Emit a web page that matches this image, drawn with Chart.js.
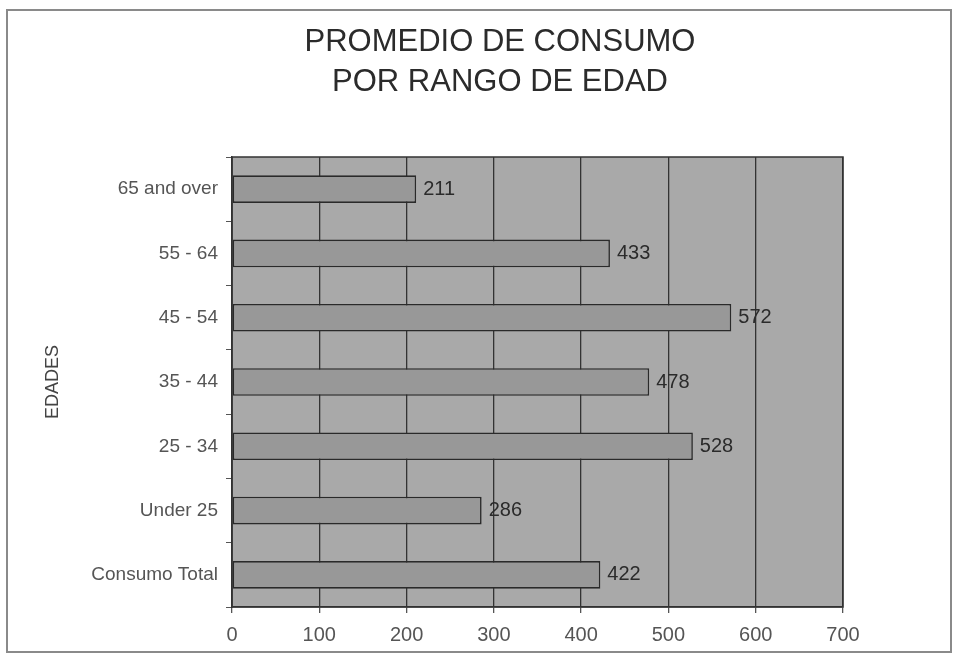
<!DOCTYPE html>
<html>
<head>
<meta charset="utf-8">
<script src="https://cdn.jsdelivr.net/npm/chart.js@4.4.1/dist/chart.umd.min.js"></script>
<style>
  html, body { margin: 0; padding: 0; background: #fff; }
  #wrap { width: 957px; height: 656px; position: relative; }
</style>
</head>
<body>
<div id="wrap"><canvas id="consumoChart"></canvas></div>
<script>
const categories = ["65 and over", "55 - 64", "45 - 54", "35 - 44", "25 - 34", "Under 25", "Consumo Total"];
const consumo = [211, 433, 572, 478, 528, 286, 422];
const xTicks = [0, 100, 200, 300, 400, 500, 600, 700];
const titleLines = ["PROMEDIO DE CONSUMO", "POR RANGO DE EDAD"];

const FONT = "'Liberation Sans', Arial, sans-serif";

// gray plot background + outer frame + title
const framePlugin = {
  id: "frame",
  beforeDraw(chart) {
    const { ctx, chartArea: a } = chart;
    ctx.save();
    ctx.fillStyle = "#fff";
    ctx.fillRect(0, 0, chart.width, chart.height);
    ctx.fillStyle = "#a9a9a9";
    ctx.fillRect(a.left, a.top, a.right - a.left, a.bottom - a.top);
    ctx.restore();
  },
  afterDraw(chart) {
    const { ctx, chartArea: a } = chart;
    ctx.save();
    ctx.strokeStyle = "#333";
    ctx.lineWidth = 1.5;
    ctx.strokeRect(a.left, a.top, a.right - a.left, a.bottom - a.top);
    ctx.strokeStyle = "#8a8a8a";
    ctx.lineWidth = 2;
    ctx.strokeRect(7, 10, 944, 642);
    ctx.fillStyle = "#2b2b2b";
    ctx.font = "31px " + FONT;
    ctx.textAlign = "center";
    ctx.textBaseline = "middle";
    titleLines.forEach((t, i) => ctx.fillText(t, 500, 42 + i * 40));
    ctx.restore();
  },
};

// value labels at bar ends
const valueLabels = {
  id: "valueLabels",
  afterDatasetsDraw(chart) {
    const { ctx } = chart;
    const meta = chart.getDatasetMeta(0);
    ctx.save();
    ctx.fillStyle = "#2b2b2b";
    ctx.font = "20px " + FONT;
    ctx.textAlign = "left";
    ctx.textBaseline = "middle";
    meta.data.forEach((bar, i) => {
      ctx.fillText(consumo[i], bar.x + 7, bar.y);
    });
    ctx.restore();
  },
};

new Chart(document.getElementById("consumoChart"), {
  type: "bar",
  data: {
    labels: categories,
    datasets: [
      {
        data: consumo,
        backgroundColor: "#989898",
        borderColor: "#2a2a2a",
        borderWidth: 1.6,
        borderSkipped: false,
        barPercentage: 0.43,
        categoryPercentage: 1,
      },
    ],
  },
  options: {
    indexAxis: "y",
    responsive: true,
    maintainAspectRatio: false,
    animation: false,
    layout: { padding: { top: 157, left: 40, right: 114, bottom: 6 } },
    plugins: {
      legend: { display: false },
      title: { display: false },
      tooltip: { enabled: false },
    },
    scales: {
      x: {
        min: 0,
        max: 700,
        afterBuildTicks(scale) {
          scale.ticks = xTicks.map((v) => ({ value: v }));
        },
        afterFit(scale) {
          scale.height = 43;
        },
        border: { display: true, color: "#333", width: 1.5 },
        grid: { color: "#333", lineWidth: 1.3, tickLength: 6, tickColor: "#555" },
        ticks: { color: "#555", font: { family: FONT, size: 20 }, padding: 10, maxRotation: 0 },
      },
      y: {
        afterFit(scale) {
          scale.width = 192;
        },
        border: { display: true, color: "#333", width: 1.5 },
        grid: { drawOnChartArea: false, tickLength: 6, tickColor: "#555", offset: true },
        ticks: { color: "#555", font: { family: FONT, size: 19 }, padding: 8 },
        title: {
          display: true,
          text: "EDADES",
          color: "#444",
          font: { family: FONT, size: 18 },
          padding: { top: 2, bottom: 0 },
        },
      },
    },
  },
  plugins: [framePlugin, valueLabels],
});
</script>
</body>
</html>
